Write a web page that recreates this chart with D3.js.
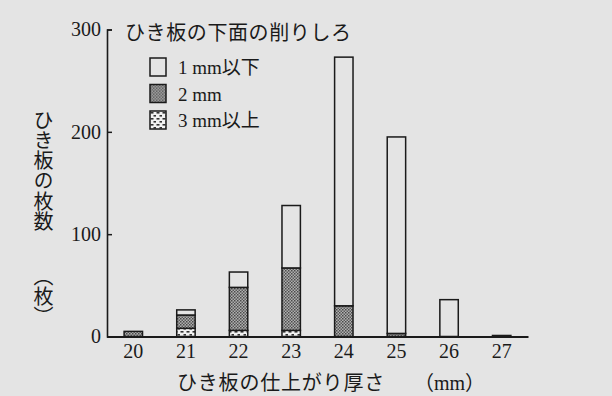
<!DOCTYPE html>
<html lang="ja">

<head>
    <meta charset="UTF-8">
    <title>ひき板の仕上がり厚さ</title>
    <script src="https://d3js.org/d3.v7.min.js"></script>
    <style>
        body {
            margin: 0;
            background-color: #e4e4e4;
        }

        svg {
            display: block;
            font-family: "Liberation Serif", "Noto Sans CJK JP", serif;
            fill: #1a1a1a;
        }
    </style>
</head>

<body>
    <svg id="chart" width="612" height="396"></svg>

    <script>
        // data
        const thickness = ["20", "21", "22", "23", "24", "25", "26", "27"];
        const over3mm = [0, 8, 6, 6, 0, 0, 0, 0];
        const mm2 = [5, 13, 42, 61, 30, 3, 0, 0];
        const under1mm = [0, 5, 15, 61, 243, 192, 36, 1];
        const yTicks = [0, 100, 200, 300];
        const seriesNames = ["1 mm以下", "2 mm", "3 mm以上"];

        const svg = d3.select("#chart");
        const ink = "#1a1a1a";
        const paper = "#e4e4e4";

        // patterns for the fills
        const defs = svg.append("defs");
        const p2 = defs.append("pattern")
            .attr("id", "fine")
            .attr("width", 3).attr("height", 3)
            .attr("patternUnits", "userSpaceOnUse");
        p2.append("rect").attr("width", 3).attr("height", 3).attr("fill", "#b0b0b0");
        p2.append("rect").attr("width", 1.5).attr("height", 1.5).attr("fill", "#4a4a4a");
        p2.append("rect").attr("x", 1.5).attr("y", 1.5).attr("width", 1.5).attr("height", 1.5).attr("fill", "#5a5a5a");

        const p3 = defs.append("pattern")
            .attr("id", "coarse")
            .attr("width", 6).attr("height", 6)
            .attr("patternUnits", "userSpaceOnUse");
        p3.append("rect").attr("width", 6).attr("height", 6).attr("fill", "#f2f2f2");
        p3.append("rect").attr("x", 0.5).attr("y", 1).attr("width", 3).attr("height", 1.6).attr("fill", "#333");
        p3.append("rect").attr("x", 3.5).attr("y", 4).attr("width", 2.5).attr("height", 1.6).attr("fill", "#333");

        const fills = ["url(#coarse)", "url(#fine)", paper];

        // scales
        const x = d3.scaleBand()
            .domain(thickness)
            .range([107, 528])
            .paddingInner(0.65)
            .paddingOuter(0.325);

        const y = d3.scaleLinear()
            .domain([0, 300])
            .range([336.5, 29.5]);

        // stacked bars: 3mm以上 at the bottom, then 2mm, then 1mm以下
        const rows = thickness.map((t, i) => ({ t: t, a: over3mm[i], b: mm2[i], c: under1mm[i] }));
        const stack = d3.stack().keys(["a", "b", "c"])(rows);

        svg.append("g")
            .selectAll("g")
            .data(stack)
            .join("g")
            .attr("fill", (d, i) => fills[i])
            .selectAll("rect")
            .data(d => d.filter(s => s[1] > s[0]))
            .join("rect")
            .attr("x", d => x(d.data.t))
            .attr("width", x.bandwidth())
            .attr("y", d => y(d[1]))
            .attr("height", d => y(d[0]) - y(d[1]))
            .attr("stroke", ink)
            .attr("stroke-width", 1.5);

        // y axis, ticks pointing inward
        const yAxis = svg.append("g")
            .attr("transform", "translate(107,0)")
            .call(d3.axisLeft(y).tickValues(yTicks).tickSize(-5).tickSizeOuter(-5).tickPadding(6));
        yAxis.select(".domain").attr("stroke", ink).attr("stroke-width", 1.6);
        yAxis.selectAll(".tick line").attr("stroke", ink).attr("stroke-width", 1.5);
        yAxis.selectAll(".tick text")
            .attr("font-size", 20)
            .attr("font-family", "Liberation Serif")
            .attr("fill", ink);

        // x axis
        const xAxis = svg.append("g")
            .attr("transform", `translate(0,${y(0)})`)
            .call(d3.axisBottom(x).tickSize(0).tickPadding(7));
        xAxis.select(".domain").attr("stroke", ink).attr("stroke-width", 2);
        xAxis.selectAll(".tick text")
            .attr("font-size", 20)
            .attr("font-family", "Liberation Serif")
            .attr("fill", ink);

        // legend
        svg.append("text")
            .attr("x", 125).attr("y", 40)
            .attr("font-size", 20)
            .attr("letter-spacing", 0.6)
            .text("ひき板の下面の削りしろ");

        const legendFills = [paper, "url(#fine)", "url(#coarse)"];
        const lg = svg.append("g")
            .selectAll("g")
            .data(seriesNames)
            .join("g")
            .attr("transform", (d, i) => `translate(150,${58 + i * 26.5})`);
        lg.append("rect")
            .attr("width", 16).attr("height", 18)
            .attr("fill", (d, i) => legendFills[i])
            .attr("stroke", ink).attr("stroke-width", 1.5);
        lg.append("text")
            .attr("x", 28).attr("y", 16)
            .attr("font-size", 19)
            .text(d => d);

        // axis titles
        svg.append("text")
            .attr("x", 42).attr("y", 110)
            .attr("font-size", 20)
            .attr("letter-spacing", 0.3)
            .style("writing-mode", "vertical-rl")
            .text("ひき板の枚数");
        svg.append("text")
            .attr("x", 42).attr("y", 266)
            .attr("font-size", 20)
            .style("writing-mode", "vertical-rl")
            .text("（枚）");

        svg.append("text")
            .attr("x", 177).attr("y", 390)
            .attr("font-size", 20)
            .attr("letter-spacing", 0.8)
            .text("ひき板の仕上がり厚さ");
        svg.append("text")
            .attr("x", 414).attr("y", 390)
            .attr("font-size", 20)
            .text("（mm）");
    </script>
</body>

</html>
